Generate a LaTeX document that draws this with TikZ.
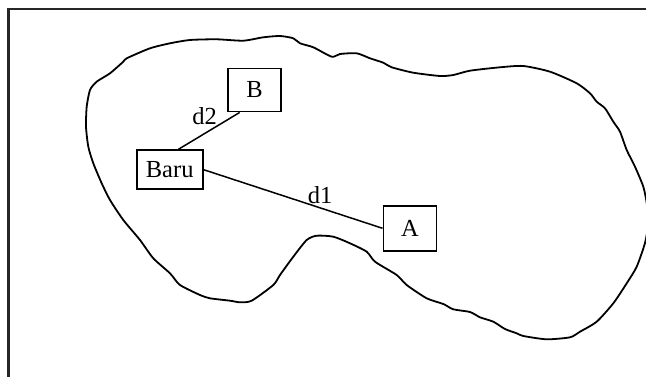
\documentclass[tikz,border=0pt]{standalone}
\usepackage{fontspec}
\setmainfont{Liberation Serif}
\usetikzlibrary{calc}
\begin{document}
\begin{tikzpicture}[x=1pt,y=-1pt,
  lbl/.style={font=\fontsize{24.5}{28}\selectfont, inner sep=0pt},
  boxnode/.style={draw, line width=1.9pt, inner sep=0pt, font=\fontsize{24.5}{28}\selectfont, anchor=center},
  conn/.style={line width=1.5pt},
  blob/.style={line width=1.8pt, line join=round}]
\useasboundingbox (0,0) rectangle (646,377);
% frame
\draw[line width=2.4pt, black!85] (8.3,385) -- (8.3,9.3) -- (655,9.3);
% outline
\draw[blob] plot[smooth cycle, tension=0.4] coordinates {
(126.7,58.3) (150,48.3) (170,43.3) (190,40) (216.7,39.3) (243.3,40.7) (263.3,37.3) (280,36)
(293.3,38.3) (300,43.3) (313.3,47.3) (331.7,56.7) (340,54) (356.7,53.3) (370,58.3) (383.3,62.7)
(391.7,67.3) (413.3,72.7) (440,76) (453.3,75) (470,70.7) (500,67.3) (523.3,66) (550,71.7)
(576.7,83.3) (590,93.3) (596.7,101.7) (605,108.3) (613.3,121.7) (620,131.7) (626.7,150)
(635,166.7) (643.3,186.7) (647,205) (648,225) (645,243) (636.7,266.7) (626.7,283.3)
(613.3,303.3) (596.7,321.7) (580,331.7) (570,337.3) (546.7,339.3) (523.3,336) (516.7,333.3)
(505,329) (493.3,321.7) (480,317.3) (470,312) (453.3,309.3) (443.3,304) (426.7,298.3)
(406.7,285) (396.7,275) (375,261.7) (366.7,251.7) (350,243.3) (333.3,236.7) (316.7,235.7)
(306.7,240) (293.3,256.7) (280,275) (273.3,285) (251.7,300.7) (240,302.3) (230,300.7)
(210,298.3) (200,295) (180,285) (170,273.3) (153.3,258.3) (140,240) (123.3,220) (110,200)
(101.7,183.3) (93.3,163.3) (88.3,146.7) (86,126.7) (86.7,106.7) (90,90) (96.7,81.7)
(110,73.3) (123.3,61.7)};
% nodes
\node[boxnode, minimum width=53pt, minimum height=43pt] (B) at (254.5,90) {B};
\node[boxnode, minimum width=66pt, minimum height=39pt] (Baru) at (169.7,169.7) {Baru};
\node[boxnode, minimum width=53pt, minimum height=45pt] (A) at (410,228.3) {A};
% connectors
\draw[conn] ($(B.south west)!0.23!(B.south east)$) -- ($(Baru.north west)!0.63!(Baru.north east)$);
\draw[conn] (Baru.east) -- (A.west);
% labels
\node[lbl] (d2) at (204.7,116) {d2};
\node[lbl] (d1) at (320,195) {d1};
\end{tikzpicture}
\end{document}
